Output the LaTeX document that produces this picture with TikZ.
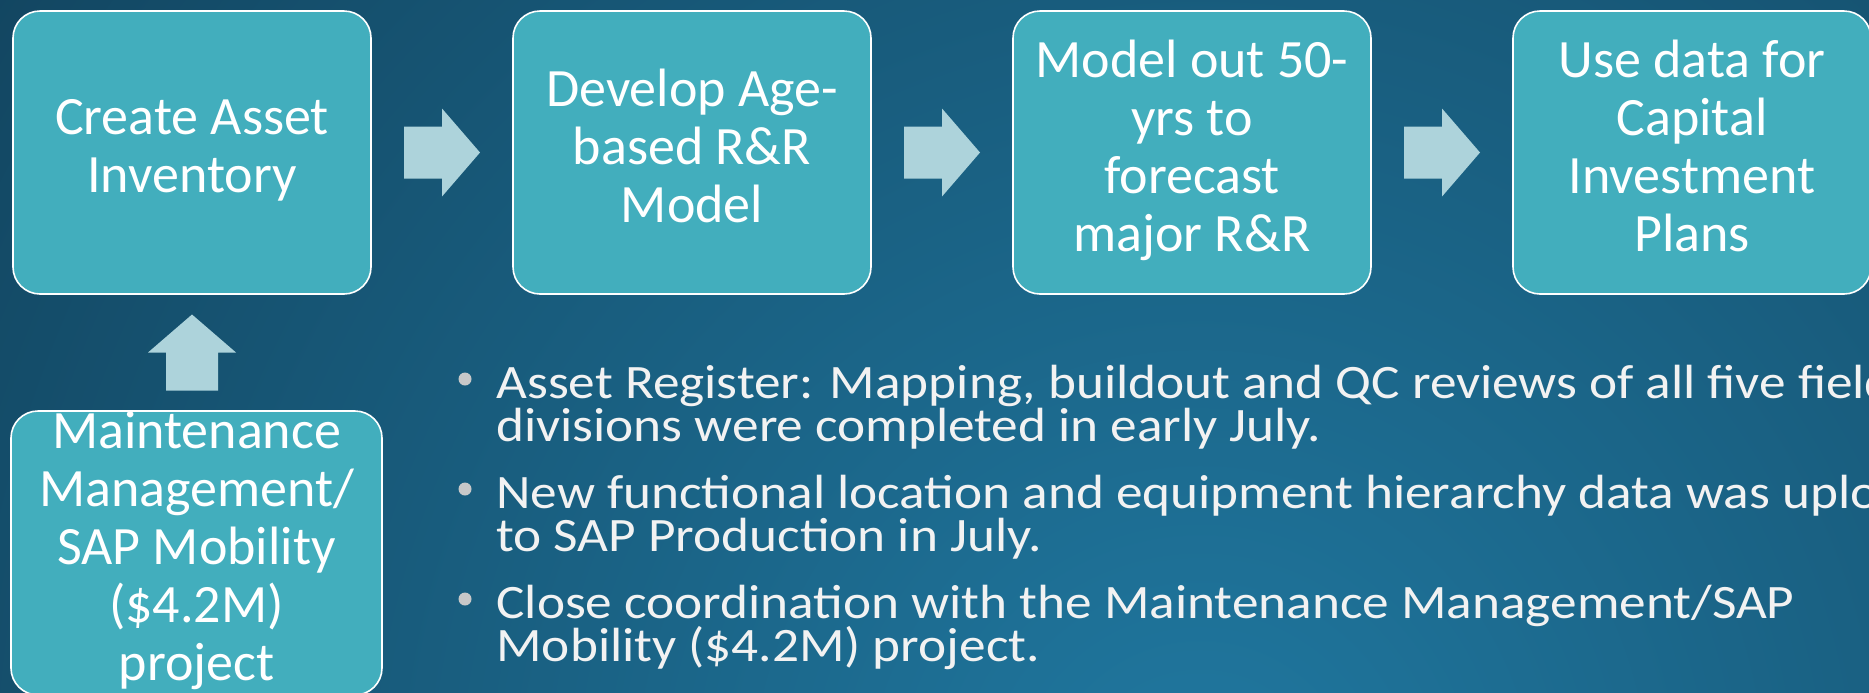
\documentclass[tikz,border=0pt]{standalone}
\usepackage{fontspec}
\setmainfont{Carlito}
\newfontfamily\bulletfont{Carlito}[FakeStretch=1.11]
\usetikzlibrary{calc}

\definecolor{bgdark}{HTML}{0F3A52}
\definecolor{bglight}{HTML}{2078A0}
\definecolor{boxfill}{HTML}{42AEBD}
\definecolor{arrowfill}{HTML}{ADD3DB}
\definecolor{bullettext}{HTML}{F2F2F2}
\definecolor{bulletdot}{HTML}{C8C8C8}

% line strut: fixed ascent/descent so every box centres its lines alike
\newcommand\linestrut{\rule[-6.75pt]{0pt}{29pt}}

\tikzset{
  stepbox/.style={draw=white, line width=0.8pt, fill=boxfill,
    rounded corners=13.5pt, inner sep=0pt,
    minimum width=179pt, minimum height=141.5pt,
    text=white, align=center, font=\fontsize{27}{29}\selectfont,
    execute at begin node=\linestrut, execute at end node=\linestrut},
  bulletline/.style={anchor=base west, inner sep=0pt, text=bullettext,
    font=\bulletfont\fontsize{24}{21.5}\selectfont},
  bulletmark/.style={fill=bulletdot},
  blockarrow/.pic={
    \fill[arrowfill] (-38,-26) -- (0,-26) -- (0,-44) -- (38,0)
      -- (0,44) -- (0,26) -- (-38,26) -- cycle;}
}

\begin{document}
\begin{tikzpicture}[x=0.5pt, y=-0.5pt]
  % canvas and background gradient
  \clip (0,0) rectangle (1869,692);
  \fill[bgdark] (0,0) rectangle (1869,692);
  \shade[inner color=bglight, outer color=bgdark] (1200,800) circle (900pt);

  % process steps
  \node[stepbox] (s1) at (192,152.5) {Create Asset\\Inventory};
  \node[stepbox] (s2) at (692,152.5) {Develop Age-\\based R\&R\\Model};
  \node[stepbox] (s3) at (1192,152.5) {Model out 50-\\yrs to\\forecast\\major R\&R};
  \node[stepbox] (s4) at (1692,152.5) {Use data for\\Capital\\Investment\\Plans};

  % feeding project
  \node[stepbox, minimum width=185.5pt, minimum height=142pt] (mm) at (196.5,553)
    {Maintenance\\Management/\\SAP Mobility\\(\$4.2M)\\project};

  % block arrows between steps
  \path ($(s1.east)!0.5!(s2.west)$) pic {blockarrow};
  \path ($(s2.east)!0.5!(s3.west)$) pic {blockarrow};
  \path ($(s3.east)!0.5!(s4.west)$) pic {blockarrow};
  \path ($(s1.south)!0.5!(s1.south|-mm.north)$) pic[rotate=90] {blockarrow};

  % status bullets
  \node[bulletline] (b1a) at (496,398) {Asset Register: Mapping, buildout and QC reviews of all five field};
  \node[bulletline] (b1b) at (496,441) {divisions were completed in early July.};
  \node[bulletline] (b2a) at (496,508) {New functional location and equipment hierarchy data was uploaded};
  \node[bulletline] (b2b) at (496,551) {to SAP Production in July.};
  \node[bulletline] (b3a) at (496,618) {Close coordination with the Maintenance Management/SAP};
  \node[bulletline] (b3b) at (496,661) {Mobility (\$4.2M) project.};

  \foreach \b in {b1a,b2a,b3a}
    \fill[bulletmark] ($(\b.base west)+(-31,-19)$) circle (3.25pt);
\end{tikzpicture}
\end{document}
